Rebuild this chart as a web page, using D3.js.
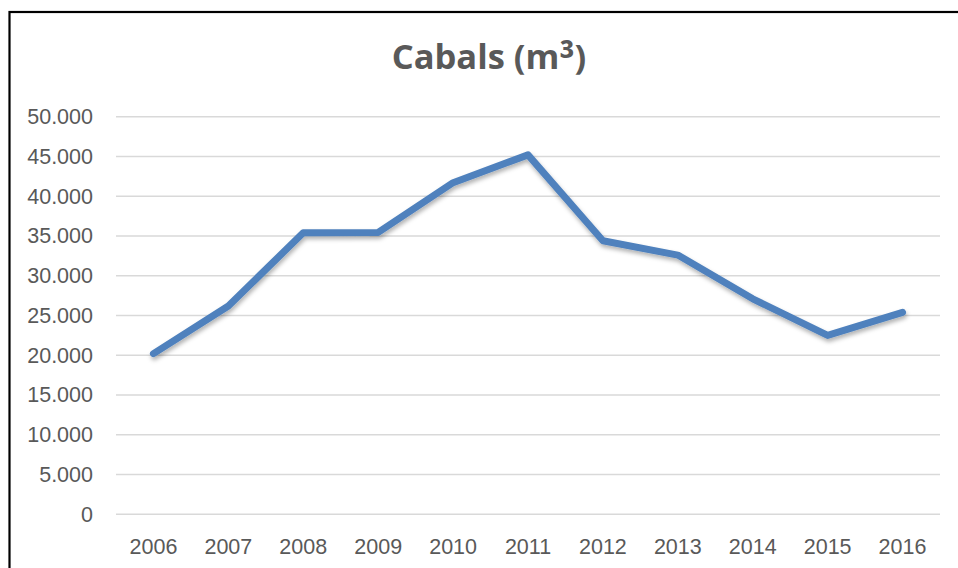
<!DOCTYPE html>
<html>
<head>
<meta charset="utf-8">
<script src="https://cdnjs.cloudflare.com/ajax/libs/d3/7.8.5/d3.min.js"></script>
<style>
  body { margin: 0; background: #fff; }
  svg { display: block; font-family: Lato, "Open Sans", sans-serif; }
</style>
</head>
<body>
<script>
// DATA
var years = ["2006","2007","2008","2009","2010","2011","2012","2013","2014","2015","2016"];
var cabals = [20200, 26200, 35400, 35450, 41700, 45200, 34400, 32600, 27100, 22500, 25400];
var yTicks = [0, 5000, 10000, 15000, 20000, 25000, 30000, 35000, 40000, 45000, 50000];
var titleMain = "Cabals (m", titleSup = "³", titleEnd = ")";

// SIZE
var W = 958, H = 568;
var plot = {left: 116, right: 940, top: 116.7, bottom: 514.3};

var svg = d3.select("body").append("svg")
    .attr("width", W)
    .attr("height", H);

// frame (only top and left edges visible in the window)
svg.append("rect")
    .attr("x", 9.5).attr("y", 12)
    .attr("width", 980).attr("height", 600)
    .attr("fill", "white")
    .attr("stroke", "#000")
    .attr("stroke-width", 2.2);

// SCALES
var x = d3.scaleBand()
    .domain(years)
    .range([plot.left, plot.right]);

var y = d3.scaleLinear()
    .domain([0, 50000])
    .range([plot.bottom, plot.top]);

var fmt = function(v) { return d3.format(",")(v).replace(/,/g, "."); };

// GRID
svg.append("g")
    .selectAll("line")
    .data(yTicks)
    .enter().append("line")
        .attr("x1", plot.left)
        .attr("x2", plot.right)
        .attr("y1", function(d) { return y(d); })
        .attr("y2", function(d) { return y(d); })
        .attr("stroke", "#d9d9d9")
        .attr("stroke-width", 1.5);

// Y AXIS
var yAxis = d3.axisLeft(y)
    .tickValues(yTicks)
    .tickFormat(fmt)
    .tickSize(0)
    .tickPadding(23);

svg.append("g")
    .attr("transform", "translate(" + plot.left + ",0)")
    .call(yAxis)
    .call(function(g) { g.select(".domain").remove(); })
    .selectAll("text")
        .attr("fill", "#595959")
        .style("font-size", "21.5px");

// X AXIS
var xAxis = d3.axisBottom(x)
    .tickSize(0)
    .tickPadding(24);

svg.append("g")
    .attr("transform", "translate(0," + plot.bottom + ")")
    .call(xAxis)
    .call(function(g) { g.select(".domain").remove(); })
    .selectAll("text")
        .attr("fill", "#595959")
        .style("font-size", "21.5px");

// shadow
var defs = svg.append("defs");
var f = defs.append("filter").attr("id", "shadow")
    .attr("x", "-10%").attr("y", "-10%").attr("width", "120%").attr("height", "130%");
f.append("feDropShadow")
    .attr("dx", 1).attr("dy", 3)
    .attr("stdDeviation", 2)
    .attr("flood-color", "#000")
    .attr("flood-opacity", 0.3);

// LINE
var line = d3.line()
    .x(function(d, i) { return x(years[i]) + x.bandwidth() / 2; })
    .y(function(d) { return y(d); });

svg.append("path")
    .datum(cabals)
    .attr("d", line)
    .attr("fill", "none")
    .attr("stroke", "#4f81bd")
    .attr("stroke-width", 7)
    .attr("stroke-linejoin", "round")
    .attr("stroke-linecap", "round")
    .attr("filter", "url(#shadow)");

// TITLE
var t = svg.append("text")
    .attr("x", 489)
    .attr("y", 69)
    .attr("text-anchor", "middle")
    .attr("fill", "#595959")
    .style("font-family", "'Open Sans', sans-serif")
    .style("font-size", "34.5px")
    .style("font-weight", "bold");
t.append("tspan").text(titleMain);
t.append("tspan").style("font-size", "40px").attr("dy", 5).text(titleSup);
t.append("tspan").attr("dy", -5).text(titleEnd);
</script>
</body>
</html>
